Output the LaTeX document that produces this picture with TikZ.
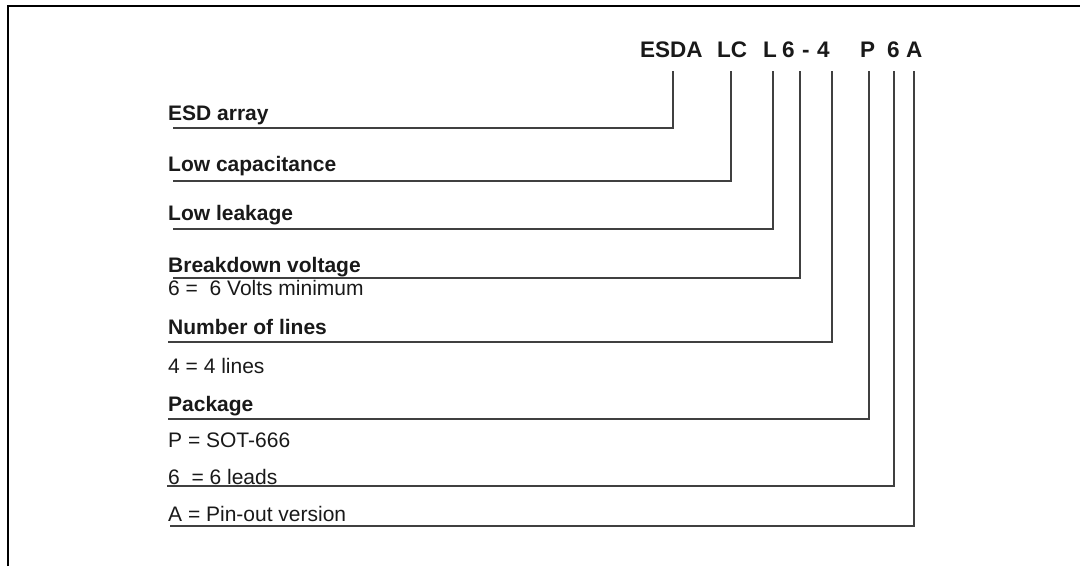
\documentclass[tikz,border=0pt]{standalone}
\usepackage{fontspec}
\setmainfont{Liberation Sans}
\begin{document}
\begin{tikzpicture}[x=1pt,y=-1pt,
  lbl/.style={anchor=base west,inner sep=0pt,font=\fontsize{21}{24}\selectfont\bfseries,text=black!90},
  val/.style={anchor=base west,inner sep=0pt,font=\fontsize{21}{24}\selectfont,text=black!90},
  ttl/.style={anchor=base west,inner sep=0pt,font=\fontsize{22.5}{26}\selectfont\bfseries,text=black!90},
  conn/.style={draw=black!75,line width=1.3pt}]
\useasboundingbox (0,0) rectangle (1080,566);
% frame
\draw[line width=2pt] (8,566) -- (8,6) -- (1080,6);
% title
\node[ttl] (tESDA) at (640,57) {ESDA};
\node[ttl] (tLC) at (717,57) {LC};
\node[ttl] (tL) at (763,57) {L};
\node[ttl] (t6a) at (782,57) {6};
\node[ttl] (tdash) at (802,57) {-};
\node[ttl] (t4) at (817,57) {4};
\node[ttl] (tP) at (860,57) {P};
\node[ttl] (t6b) at (887,57) {6};
\node[ttl] (tA) at (906,57) {A};
% labels
\node[lbl] (l1) at (168,120) {ESD array};
\node[lbl] (l2) at (168,171) {Low capacitance};
\node[lbl] (l3) at (168,220) {Low leakage};
\node[lbl] (l4) at (168,272) {Breakdown voltage};
\node[val] (v4) at (168,295) {6 =\ \ 6 Volts minimum};
\node[lbl] (l5) at (168,334) {Number of lines};
\node[val] (v5) at (168,373) {4 = 4 lines};
\node[lbl] (l6) at (168,411) {Package};
\node[val] (v6) at (168,447) {P = SOT-666};
\node[val] (v7) at (168,484) {6\ \ = 6 leads};
\node[val] (v8) at (168,521) {A = Pin-out version};
% connector coordinates
\foreach \n/\x/\y/\s in {1/673/128/173, 2/731/181/173, 3/773/229/173, 4/800/278/173,
                          5/832/342/168, 6/869/419/168, 7/894/486/167, 8/914/526/170} {
  \coordinate (top\n) at (\x,71);
  \coordinate (cor\n) at (\x,\y);
  \coordinate (end\n) at (\s,\y);
}
\foreach \n in {1,...,8} {
  \draw[conn] (top\n) -- (cor\n) -- (end\n);
}
\end{tikzpicture}
\end{document}
